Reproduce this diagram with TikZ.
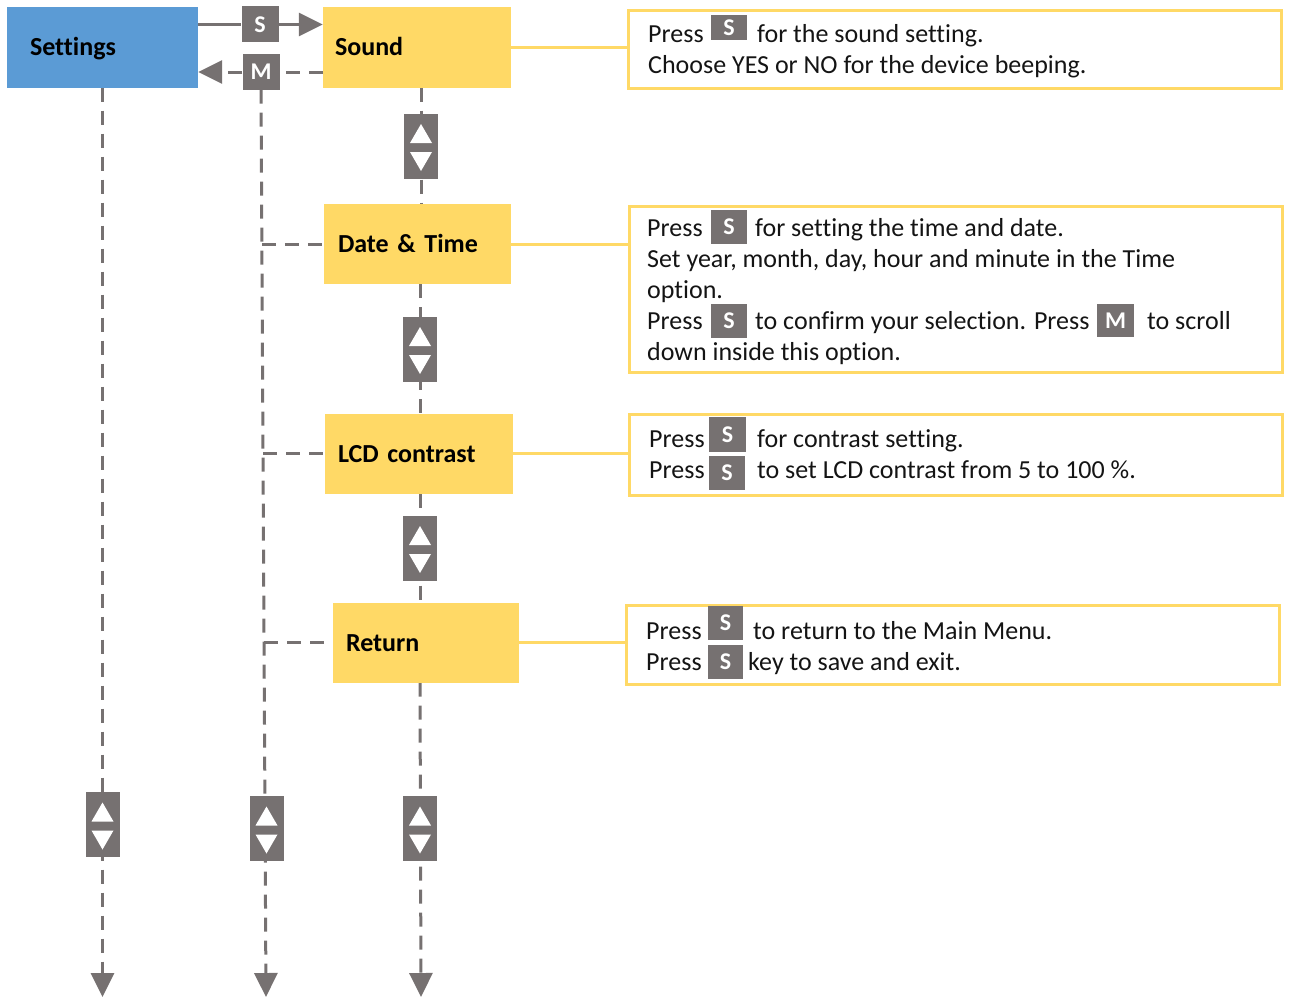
\documentclass[tikz,border=0pt]{standalone}
\usepackage{fontspec}
\setmainfont{Carlito}[Ligatures=NoCommon]
\usetikzlibrary{arrows.meta,calc}
\definecolor{kgrey}{HTML}{767171}
\definecolor{mblue}{HTML}{5B9BD5}
\definecolor{myellow}{HTML}{FFD966}
\pgfdeclarelayer{bg}
\pgfsetlayers{bg,main}
\tikzset{
 menubox/.style={inner ysep=0pt, minimum height=80pt, text height=17pt, text depth=0pt, align=left,
   font=\bfseries\fontsize{26}{30}\selectfont, fill=myellow},
 descbox/.style={draw=myellow, line width=3pt, inner sep=0pt},
 txt/.style={anchor=base west, inner sep=0pt, font=\fontsize{26}{31}\selectfont, text=black!92},
 ikey/.style={fill=kgrey, text=white, inner sep=0pt, font=\bfseries\fontsize{24}{24}\selectfont},
 updown/.style={fill=kgrey, inner sep=0pt, minimum width=34pt, minimum height=65pt,
   path picture={
     \fill[white] ([shift={(-11,-3)}]path picture bounding box.center) -- ([shift={(11,-3)}]path picture bounding box.center) -- ([shift={(0,-22)}]path picture bounding box.center) -- cycle;
     \fill[white] ([shift={(-11,6)}]path picture bounding box.center) -- ([shift={(11,6)}]path picture bounding box.center) -- ([shift={(0,25)}]path picture bounding box.center) -- cycle;
   }},
 dashline/.style={draw=kgrey, line width=3pt, dash pattern=on 14pt off 9pt},
 solidline/.style={draw=kgrey, line width=3pt},
 yline/.style={draw=myellow, line width=3pt},
 bigtip/.style={-{Triangle[length=24pt,width=23pt]}}
}
\begin{document}
\begin{tikzpicture}[x=1pt,y=-1pt]
\useasboundingbox (0,0) rectangle (1289,998);
% menu boxes
\node[menubox, fill=mblue, inner xsep=23pt, text width=145pt] (set) at (102.5,47.5) {Settings};
\node[menubox, inner xsep=12pt, text width=164pt] (snd) at (417,47.5) {Sound};
\node[menubox, inner xsep=14pt, text width=159pt] (dt) at (417.5,244) {Date \& Time};
\node[menubox, inner xsep=13pt, text width=162pt] (lcd) at (419,453.5) {LCD contrast};
\node[menubox, inner xsep=13pt, text width=160pt] (ret) at (426,642.5) {Return};
% top keys
\node[ikey, minimum width=37pt, minimum height=36pt] (sk) at (260,24.5) {S};
\node[ikey, minimum width=37pt, minimum height=35pt] (mk) at (261,72) {M};
% up-down keys
\node[updown] (us) at (102.5,824.5) {};
\node[updown] (um) at (266.5,828.5) {};
\node[updown] (u1) at (421,146) {};
\node[updown] (u2) at (420,349) {};
\node[updown] (u3) at (420,548) {};
\node[updown] (u4) at (420,828.5) {};
% end coordinates
\coordinate (setend) at (102.5,997);
\coordinate (mend) at (266,997);
\coordinate (send) at (421,997);
% description boxes
\node[descbox, minimum width=653pt, minimum height=78pt] (d1) at (954.5,49.5) {};
\node[descbox, minimum width=653pt, minimum height=166pt] (d2) at (956,289.5) {};
\node[descbox, minimum width=653pt, minimum height=81pt] (d3) at (956,455) {};
\node[descbox, minimum width=653pt, minimum height=79pt] (d4) at (953,645) {};
% description texts
\node[txt] (t1a) at (648,43) {Press};
\node[ikey, minimum width=36pt, minimum height=25pt] (k1) at (729,27.5) {S};
\node[txt] (t1b) at (757,43) {for the sound setting.};
\node[txt] (t1c) at (648,74) {Choose YES or NO for the device beeping.};

\node[txt] (t2a) at (647,236) {Press};
\node[ikey, minimum width=36pt, minimum height=34pt] (k2) at (729,227) {S};
\node[txt] (t2b) at (755,236) {for setting the time and date.};
\node[txt] (t2c) at (647,267) {Set year, month, day, hour and minute in the Time};
\node[txt] (t2d) at (647,298) {option.};
\node[txt] (t2e) at (647,329) {Press};
\node[ikey, minimum width=36pt, minimum height=34pt] (k3) at (729,321) {S};
\node[txt] (t2f) at (755,329) {to confirm your selection. Press};
\node[ikey, minimum width=37pt, minimum height=33pt] (k4) at (1115.5,320.5) {M};
\node[txt] (t2g) at (1147,329) {to scroll};
\node[txt] (t2h) at (647,360) {down inside this option.};

\node[txt] (t3a) at (649,447) {Press};
\node[ikey, minimum width=37pt, minimum height=35pt] (k5) at (727.5,434.5) {S};
\node[txt] (t3b) at (757,447) {for contrast setting.};
\node[txt] (t3c) at (649,478) {Press};
\node[ikey, minimum width=36pt, minimum height=34pt] (k6) at (727,473) {S};
\node[txt] (t3d) at (757,478) {to set LCD contrast from 5 to 100 \%.};

\node[txt] (t4a) at (646,639) {Press};
\node[ikey, minimum width=35pt, minimum height=34pt] (k7) at (725.5,623) {S};
\node[txt] (t4b) at (753,639) {to return to the Main Menu.};
\node[txt] (t4c) at (646,670) {Press};
\node[ikey, minimum width=35pt, minimum height=34pt] (k8) at (725.5,662) {S};
\node[txt] (t4d) at (748,670) {key to save and exit.};

\begin{pgfonlayer}{bg}
% S / M arrows at top
\draw[solidline] (set.east |- sk) -- (sk.west);
\draw[solidline, bigtip] (sk.east) -- (sk.east -| snd.west);
\draw[dashline] (snd.west |- mk) -- (mk.east);
\draw[dashline, bigtip] (mk.west) -- (mk.west -| set.east);
% settings column
\draw[dashline, bigtip] (set.south) -- (setend);
% M column
\draw[dashline, bigtip] (mk.south) -- (mend);
\coordinate (mb1) at ($(mk.south)!(dt.west)!(mend)$);
\coordinate (mb2) at ($(mk.south)!(lcd.west)!(mend)$);
\coordinate (mb3) at ($(mk.south)!(ret.west)!(mend)$);
\draw[dashline] (mb1) -- (mb1 -| dt.west);
\draw[dashline] (mb2) -- (mb2 -| lcd.west);
\draw[dashline] (mb3) -- (mb3 -| ret.west);
% sound column
\draw[dashline] (snd.south -| u1) -- (dt.north -| u1);
\draw[dashline] (dt.south -| u2) -- (lcd.north -| u2);
\draw[dashline] (lcd.south -| u3) -- (ret.north -| u3);
\draw[dashline, bigtip] (ret.south -| u4) -- (send);
% yellow connectors
\draw[yline] (snd.east) -- (snd.east -| d1.west);
\draw[yline] (dt.east) -- (dt.east -| d2.west);
\draw[yline] (lcd.east) -- (lcd.east -| d3.west);
\draw[yline] (ret.east) -- (ret.east -| d4.west);
\end{pgfonlayer}
\end{tikzpicture}
\end{document}
